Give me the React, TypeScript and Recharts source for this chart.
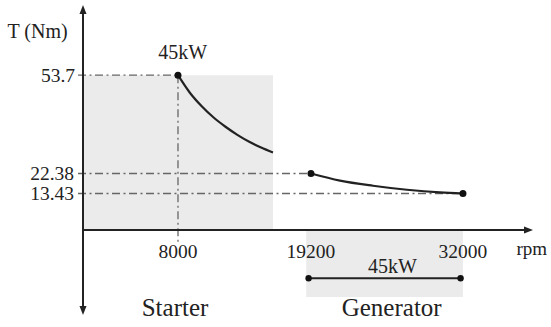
import React from 'react';
import {
  ComposedChart,
  Line,
  XAxis,
  YAxis,
  ReferenceLine,
  ReferenceArea,
  ReferenceDot,
} from 'recharts';

// ---- data ----
const starterRpm = [8000, 9000, 10000, 11000, 12000, 13000, 14000, 15000, 16000];
const starterTorque = [53.7, 47.6, 42.9, 39.0, 35.8, 33.0, 30.6, 28.6, 26.9];
const generatorRpm = [19200, 21640, 24420, 27280, 30060, 32000];
const generatorTorque = [22.38, 19.2, 16.9, 15.1, 13.9, 13.43];
const rpmTicks = [8000, 19200, 32000];
const starterTorqueTicks = [53.7];
const generatorTorqueTicks = [22.38, 13.43];
const powerLabel = '45kW';
const starterRegion = [0, 16000];
const generatorRegion = [18800, 32000];
const generatorBar = [19000, 31800];
const regionNames = ['Starter', 'Generator'];
const axisTitles = ['T (Nm)', 'rpm'];

const starterData = starterRpm.map((rpm, i) => ({ rpm, t: starterTorque[i] }));
const generatorData = generatorRpm.map((rpm, i) => ({ rpm, t: generatorTorque[i] }));

const FONT = "'Liberation Serif', 'Times New Roman', serif";
const INK = '#222';
const DASH = '#666';
const DASH_PATTERN = '8 3.5 2 3.5';
const SHADE = '#ebebeb';
const GUIDE_START = -420; // guides start just left of the vertical axis, like a tick

function arrowShape(startArrow: boolean, endArrow: boolean) {
  return (p: any) => {
    const { x1, y1, x2, y2 } = p;
    const dx = x2 - x1;
    const dy = y2 - y1;
    const len = Math.hypot(dx, dy) || 1;
    const ux = dx / len;
    const uy = dy / len;
    const L = 9;
    const W = 3.5;
    const head = (tx: number, ty: number, dirx: number, diry: number) => {
      const bx = tx - dirx * L;
      const by = ty - diry * L;
      const px = -diry * W;
      const py = dirx * W;
      return `${tx},${ty} ${bx + px},${by + py} ${bx - px},${by - py}`;
    };
    const sx = startArrow ? x1 + ux * (L - 2) : x1;
    const sy = startArrow ? y1 + uy * (L - 2) : y1;
    const ex = endArrow ? x2 - ux * (L - 2) : x2;
    const ey = endArrow ? y2 - uy * (L - 2) : y2;
    return (
      <g>
        <line x1={sx} y1={sy} x2={ex} y2={ey} stroke={INK} strokeWidth={2} />
        {startArrow && <polygon points={head(x1, y1, -ux, -uy)} fill={INK} />}
        {endArrow && <polygon points={head(x2, y2, ux, uy)} fill={INK} />}
      </g>
    );
  };
}

const textLabel = (value: string, size: number) => ({
  content: (props: any) => {
    const vb = props.viewBox || {};
    const cx = (vb.x ?? 0) + (vb.width ?? 0) / 2;
    const cy = (vb.y ?? 0) + (vb.height ?? 0) / 2;
    return (
      <text
        x={cx}
        y={cy}
        dy="0.34em"
        textAnchor="middle"
        fontSize={size}
        fontFamily={FONT}
        fill={INK}
      >
        {value}
      </text>
    );
  },
});

const XTick = (props: any) => (
  <text
    x={props.x}
    y={props.y}
    dy="0.71em"
    textAnchor="middle"
    fontSize={19.5}
    fontFamily={FONT}
    fill={INK}
  >
    {props.payload.value}
  </text>
);

const YTick = (props: any) => (
  <text
    x={props.x}
    y={props.y}
    dy="0.34em"
    textAnchor="end"
    fontSize={19.5}
    fontFamily={FONT}
    fill={INK}
  >
    {props.payload.value}
  </text>
);

export default function App() {
  return (
    <div style={{ position: 'absolute', left: 0, top: 0, fontFamily: FONT }}>
      <ComposedChart
        width={551}
        height={327}
        margin={{ top: 5, right: 18, bottom: 96, left: 81 }}
      >
        <XAxis
          dataKey="rpm"
          type="number"
          domain={[0, 37900]}
          allowDataOverflow
          ticks={rpmTicks}
          interval={0}
          axisLine={false}
          tickLine={false}
          tickSize={0}
          tickMargin={14}
          height={1}
          tick={<XTick />}
        />
        <YAxis
          yAxisId="main"
          type="number"
          domain={[0, 78.02]}
          allowDataOverflow
          ticks={starterTorqueTicks}
          interval={0}
          axisLine={false}
          tickLine={false}
          tickSize={0}
          tickMargin={7}
          width={1}
          tick={<YTick />}
        />
        <YAxis
          yAxisId="gen"
          type="number"
          domain={[-2.9, 97.78]}
          allowDataOverflow
          ticks={generatorTorqueTicks}
          interval={0}
          axisLine={false}
          tickLine={false}
          tickSize={0}
          tickMargin={9}
          width={1}
          tick={<YTick />}
        />

        {/* shaded regions */}
        <ReferenceArea
          yAxisId="main"
          x1={starterRegion[0]}
          x2={starterRegion[1]}
          y1={0}
          y2={53.7}
          fill={SHADE}
          fillOpacity={1}
          stroke="none"
          ifOverflow="visible"
        />
        <ReferenceArea
          yAxisId="main"
          x1={generatorRegion[0]}
          x2={generatorRegion[1]}
          y1={-23.2}
          y2={0}
          fill={SHADE}
          fillOpacity={1}
          stroke="none"
          ifOverflow="visible"
        />

        {/* dash-dot guides */}
        <ReferenceLine
          yAxisId="main"
          segment={[{ x: GUIDE_START, y: 53.7 }, { x: 8000, y: 53.7 }]}
          stroke={DASH}
          strokeWidth={1.3}
          strokeDasharray={DASH_PATTERN}
          ifOverflow="visible"
        />
        <ReferenceLine
          yAxisId="main"
          segment={[{ x: 8000, y: 53.7 }, { x: 8000, y: -4.2 }]}
          stroke={DASH}
          strokeWidth={1.3}
          strokeDasharray={DASH_PATTERN}
          ifOverflow="visible"
        />
        <ReferenceLine
          yAxisId="gen"
          segment={[{ x: GUIDE_START, y: 22.38 }, { x: 19200, y: 22.38 }]}
          stroke={DASH}
          strokeWidth={1.3}
          strokeDasharray={DASH_PATTERN}
          ifOverflow="visible"
        />
        <ReferenceLine
          yAxisId="gen"
          segment={[{ x: GUIDE_START, y: 13.43 }, { x: 32000, y: 13.43 }]}
          stroke={DASH}
          strokeWidth={1.3}
          strokeDasharray={DASH_PATTERN}
          ifOverflow="visible"
        />

        {/* axes with arrows */}
        <ReferenceLine
          yAxisId="main"
          segment={[{ x: 0, y: -29.47 }, { x: 0, y: 78.02 }]}
          ifOverflow="visible"
          shape={arrowShape(true, true)}
        />
        <ReferenceLine
          yAxisId="main"
          segment={[{ x: 0, y: 0 }, { x: 37900, y: 0 }]}
          ifOverflow="visible"
          shape={arrowShape(false, true)}
        />

        {/* generator power bar */}
        <ReferenceLine
          yAxisId="main"
          segment={[{ x: generatorBar[0], y: -16.75 }, { x: generatorBar[1], y: -16.75 }]}
          stroke={INK}
          strokeWidth={2}
          ifOverflow="visible"
        />

        {/* curves */}
        <Line
          yAxisId="main"
          data={starterData}
          dataKey="t"
          type="monotone"
          stroke={INK}
          strokeWidth={2.2}
          dot={false}
          activeDot={false}
          isAnimationActive={false}
        />
        <Line
          yAxisId="gen"
          data={generatorData}
          dataKey="t"
          type="monotone"
          stroke={INK}
          strokeWidth={2.2}
          dot={false}
          activeDot={false}
          isAnimationActive={false}
        />

        {/* end points */}
        <ReferenceDot yAxisId="main" x={8000} y={53.7} r={3.5} fill="#111" stroke="none" ifOverflow="visible" />
        <ReferenceDot yAxisId="gen" x={19200} y={22.38} r={3.5} fill="#111" stroke="none" ifOverflow="visible" />
        <ReferenceDot yAxisId="gen" x={32000} y={13.43} r={3.5} fill="#111" stroke="none" ifOverflow="visible" />
        <ReferenceDot yAxisId="main" x={generatorBar[0]} y={-16.75} r={3.2} fill="#111" stroke="none" ifOverflow="visible" />
        <ReferenceDot yAxisId="main" x={generatorBar[1]} y={-16.75} r={3.2} fill="#111" stroke="none" ifOverflow="visible" />

        {/* text annotations */}
        <ReferenceDot yAxisId="main" x={-3830} y={68.8} r={0} fill="none" stroke="none" ifOverflow="visible" label={textLabel(axisTitles[0], 20)} />
        <ReferenceDot yAxisId="main" x={37790} y={-6.45} r={0} fill="none" stroke="none" ifOverflow="visible" label={textLabel(axisTitles[1], 19)} />
        <ReferenceDot yAxisId="main" x={8400} y={61.8} r={0} fill="none" stroke="none" ifOverflow="visible" label={textLabel(powerLabel, 20)} />
        <ReferenceDot yAxisId="main" x={26070} y={-12.7} r={0} fill="none" stroke="none" ifOverflow="visible" label={textLabel(powerLabel, 20)} />
        <ReferenceDot yAxisId="main" x={7750} y={-26.9} r={0} fill="none" stroke="none" ifOverflow="visible" label={textLabel(regionNames[0], 25)} />
        <ReferenceDot yAxisId="main" x={26000} y={-26.9} r={0} fill="none" stroke="none" ifOverflow="visible" label={textLabel(regionNames[1], 25)} />
      </ComposedChart>
    </div>
  );
}
